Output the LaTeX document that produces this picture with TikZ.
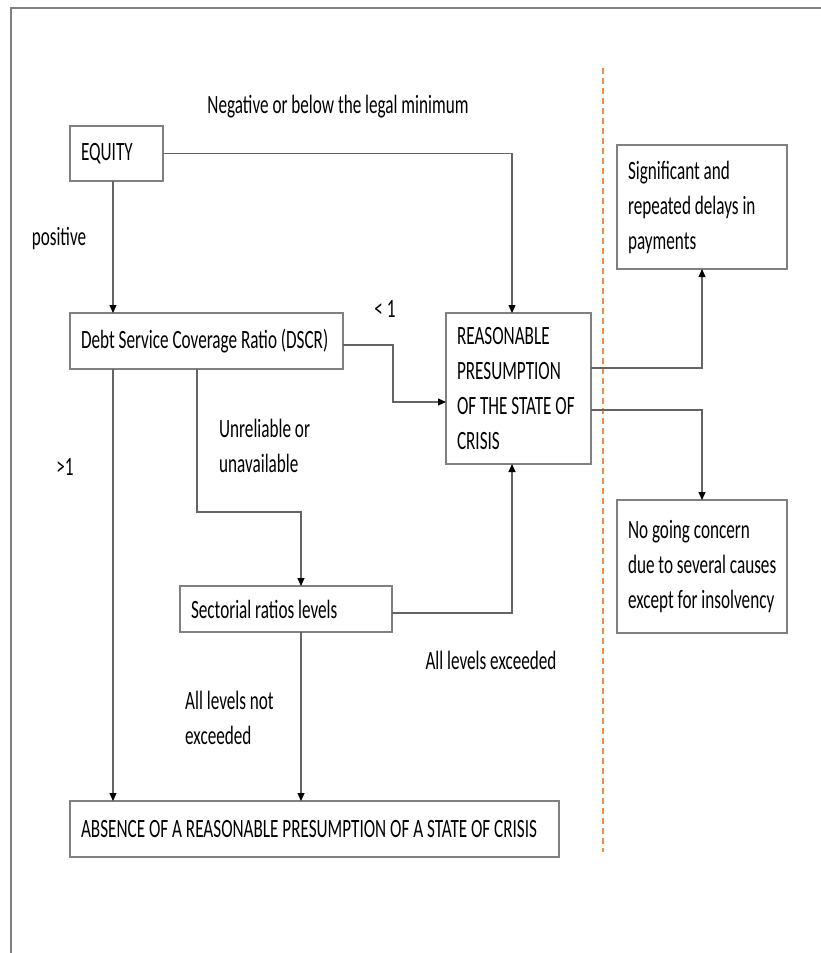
\documentclass[tikz,border=0pt]{standalone}
\usepackage{fontspec}
\setmainfont{Carlito}[FakeStretch=0.65]
\usepackage{tikz}
\usetikzlibrary{positioning,arrows.meta,calc}
\usepackage{xcolor}
\definecolor{boxgray}{RGB}{128,128,128}
\definecolor{linegray}{RGB}{100,100,100}
\definecolor{divider}{RGB}{240,140,70}
\newcommand{\diagfont}{\fontsize{26.4}{35}\selectfont}
\newcommand{\rowtext}[1]{\mbox{\spaceskip=0pt\xspaceskip=0pt #1}}

\begin{document}
\begin{tikzpicture}[
        x=1pt, y=-1pt,
        box/.style={draw=boxgray, line width=1.3pt, inner xsep=11pt, inner ysep=0pt, outer sep=0pt, align=left, font=\diagfont},
        lbl/.style={inner sep=0pt, font=\diagfont},
        arrow/.style={-{Triangle[length=8pt, width=7pt, color=black]}, line width=1.1pt, draw=linegray}
    ]
        \useasboundingbox (0,0) rectangle (821,953);

        % Page edge and separator
        \draw[boxgray, line width=1.2pt] (11,953) -- (11,8) -- (821,8);
        \draw[divider, line width=1.1pt, dash pattern=on 6pt off 4pt] (603,68) -- (603,852);

        % Boxes
        \node[box, text width=71pt, minimum height=55pt] (equity) at (116.5,153.5) {\rowtext{EQUITY}};
        \node[box, text width=251pt, minimum height=56pt] (dscr) at (206.5,341) {\rowtext{Debt Service Coverage Ratio (DSCR)}};
        \node[box, text width=123pt, minimum height=151pt] (crisis) at (518.5,388.5)
            {\rowtext{REASONABLE}\\\rowtext{PRESUMPTION}\\\rowtext{OF THE STATE OF}\\\rowtext{CRISIS}};
        \node[box, text width=148pt, minimum height=124pt] (delays) at (702,207)
            {\rowtext{Significant and}\\\rowtext{repeated delays in}\\\rowtext{payments}};
        \node[box, text width=148pt, minimum height=133pt] (nogoing) at (702,566.5)
            {\rowtext{No going concern}\\\rowtext{due to several causes}\\\rowtext{except for insolvency}};
        \node[box, text width=190pt, minimum height=46pt] (sector) at (286,609) {\rowtext{Sectorial ratios levels}};
        \node[box, text width=467pt, minimum height=56pt] (absence) at (314.5,829)
            {\rowtext{ABSENCE OF A REASONABLE PRESUMPTION OF A STATE OF CRISIS}};

        % Labels
        \node[lbl] (neg) at (338,107) {Negative or below the legal minimum};
        \node[lbl] (pos) at (59,238) {positive};
        \node[lbl] (lt) at (385,309) {< 1};
        \node[lbl] (gt) at (65,467) {>1};
        \node[lbl, align=left, anchor=west] (unrel) at (219,445.5) {Unreliable or\\unavailable};
        \node[lbl] (exc) at (491,660) {All levels exceeded};
        \node[lbl, align=left, anchor=west] (notexc) at (185,717.5) {All levels not\\exceeded};

        % Connectors
        \draw[arrow] (equity.east) -| ([xshift=-6.5pt]crisis.north);
        \draw[arrow] ([xshift=43pt]equity.south west) -- ([xshift=43pt]dscr.north west);
        \draw[arrow] ([yshift=-4pt]dscr.east) -- ++(50,0) |- ([yshift=-13.5pt]crisis.west);
        \draw[arrow] ([xshift=43pt]dscr.south west) -- ([xshift=43pt]absence.north west);
        \draw[arrow] ([xshift=127pt]dscr.south west) -- ++(0,143) -| ([xshift=15pt]sector.north);
        \draw[arrow] ([yshift=-4pt]sector.east) -| ([xshift=-6.5pt]crisis.south);
        \draw[arrow] ([xshift=15pt]sector.south) -- ([xshift=15pt]sector.south |- absence.north);
        \draw[arrow] ([yshift=20.5pt]crisis.east) -| (delays.south);
        \draw[arrow] ([yshift=-21.5pt]crisis.east) -| (nogoing.north);
    \end{tikzpicture}
\end{document}
